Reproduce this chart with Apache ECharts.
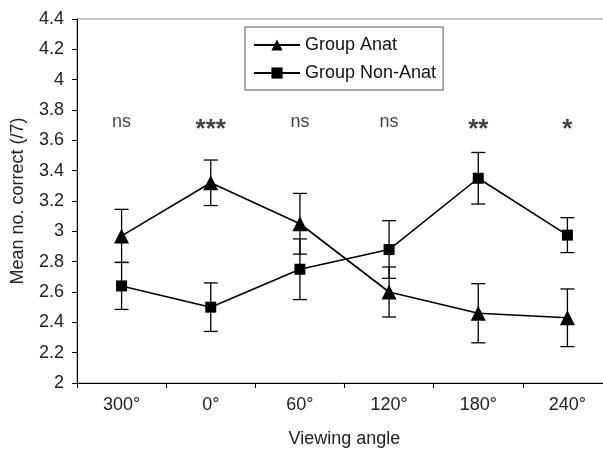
<!DOCTYPE html>
<html>
<head>
<meta charset="utf-8">
<script src="https://cdn.jsdelivr.net/npm/echarts@6/dist/echarts.min.js"></script>
<style>
  html, body { margin: 0; padding: 0; background: #fff; }
  #chart { width: 603px; height: 454px; }
</style>
</head>
<body>
<div id="chart"></div>
<script>
// viewing angles, in the order shown on the x axis
let categories = ['300°', '0°', '60°', '120°', '180°', '240°'];

// group means and half-length of the error bars
let anatMean = [2.97, 3.32, 3.05, 2.6, 2.46, 2.43];
let anatErr = [0.175, 0.15, 0.2, 0.165, 0.195, 0.19];
let nonAnatMean = [2.64, 2.5, 2.75, 2.88, 3.35, 2.975];
let nonAnatErr = [0.155, 0.16, 0.2, 0.19, 0.17, 0.115];

// significance marks above each angle
let sigLabels = ['ns', '***', 'ns', 'ns', '**', '*'];
let sigLevel = 3.72;

let yTicks = { min: 2, max: 4.4, interval: 0.2 };

let FONT = 'Liberation Sans, Arial, sans-serif';

function errData(mean, err) {
    return mean.map(function (m, i) {
        return [i, m - err[i], m + err[i]];
    });
}

function renderErrBar(params, api) {
    let lo = api.coord([api.value(0), api.value(1)]);
    let hi = api.coord([api.value(0), api.value(2)]);
    let half = 7;
    let style = { stroke: '#000', lineWidth: 1.3 };
    return {
        type: 'group',
        children: [
            { type: 'line', shape: { x1: lo[0], y1: lo[1], x2: hi[0], y2: hi[1] }, style: style },
            { type: 'line', shape: { x1: lo[0] - half, y1: lo[1], x2: lo[0] + half, y2: lo[1] }, style: style },
            { type: 'line', shape: { x1: hi[0] - half, y1: hi[1], x2: hi[0] + half, y2: hi[1] }, style: style }
        ]
    };
}

let chart = echarts.init(document.getElementById('chart'));

chart.setOption({
    backgroundColor: '#fff',
    animation: false,
    textStyle: { fontFamily: FONT },
    grid: {
        left: 77, top: 19, height: 364, width: 535,
        outerBoundsMode: 'none',
        show: true, borderColor: '#888', borderWidth: 1
    },
    legend: {
        data: ['Group Anat', 'Group Non-Anat'],
        orient: 'vertical',
        left: 245, top: 27,
        itemWidth: 46, itemHeight: 14, itemGap: 10,
        padding: [9, 7, 8, 8],
        borderColor: '#555', borderWidth: 1,
        textStyle: { fontFamily: FONT, fontSize: 18, color: '#111' }
    },
    xAxis: {
        type: 'category',
        data: categories,
        boundaryGap: true,
        name: 'Viewing angle',
        nameLocation: 'middle',
        nameGap: 47,
        nameTextStyle: { fontFamily: FONT, fontSize: 18, color: '#222' },
        axisLine: { lineStyle: { color: '#000', width: 1 } },
        axisTick: { show: true, inside: false, length: 5, alignWithLabel: false, lineStyle: { color: '#000' } },
        axisLabel: { fontFamily: FONT, fontSize: 18, color: '#222', margin: 13 },
        splitLine: { show: false }
    },
    yAxis: {
        type: 'value',
        min: yTicks.min, max: yTicks.max, interval: yTicks.interval,
        name: 'Mean no. correct (/7)',
        nameLocation: 'middle',
        nameGap: 50,
        nameTextStyle: { fontFamily: FONT, fontSize: 18, color: '#222' },
        axisLine: { show: true, lineStyle: { color: '#000', width: 1 } },
        axisTick: { show: true, inside: false, length: 5, lineStyle: { color: '#000' } },
        axisLabel: {
            fontFamily: FONT, fontSize: 18, color: '#222', margin: 13,
            formatter: function (v) { return String(Math.round(v * 10) / 10); }
        },
        splitLine: { show: false }
    },
    series: [
        {
            name: 'Group Anat',
            type: 'line',
            data: anatMean,
            symbol: 'triangle',
            symbolSize: 15,
            color: '#000',
            lineStyle: { color: '#000', width: 1.6 },
            itemStyle: { color: '#000' },
            z: 5
        },
        {
            name: 'Group Non-Anat',
            type: 'line',
            data: nonAnatMean,
            symbol: 'rect',
            symbolSize: 11,
            color: '#000',
            lineStyle: { color: '#000', width: 1.6 },
            itemStyle: { color: '#000' },
            z: 5
        },
        {
            type: 'custom',
            data: errData(anatMean, anatErr),
            renderItem: renderErrBar,
            encode: { x: 0, y: [1, 2] },
            z: 3
        },
        {
            type: 'custom',
            data: errData(nonAnatMean, nonAnatErr),
            renderItem: renderErrBar,
            encode: { x: 0, y: [1, 2] },
            z: 3
        },
        {
            type: 'scatter',
            data: sigLabels.map(function (s, i) {
                let isStar = s.charAt(0) === '*';
                return {
                    value: [i, sigLevel],
                    label: isStar
                        ? { fontSize: 26, fontWeight: 'bold', offset: [0, 8] }
                        : { fontSize: 18, fontWeight: 'normal', offset: [0, 0] }
                };
            }),
            symbolSize: 0,
            silent: true,
            label: {
                show: true,
                position: 'inside',
                formatter: function (p) { return sigLabels[p.dataIndex]; },
                fontFamily: FONT,
                color: '#111'
            }
        }
    ]
});
</script>
</body>
</html>
